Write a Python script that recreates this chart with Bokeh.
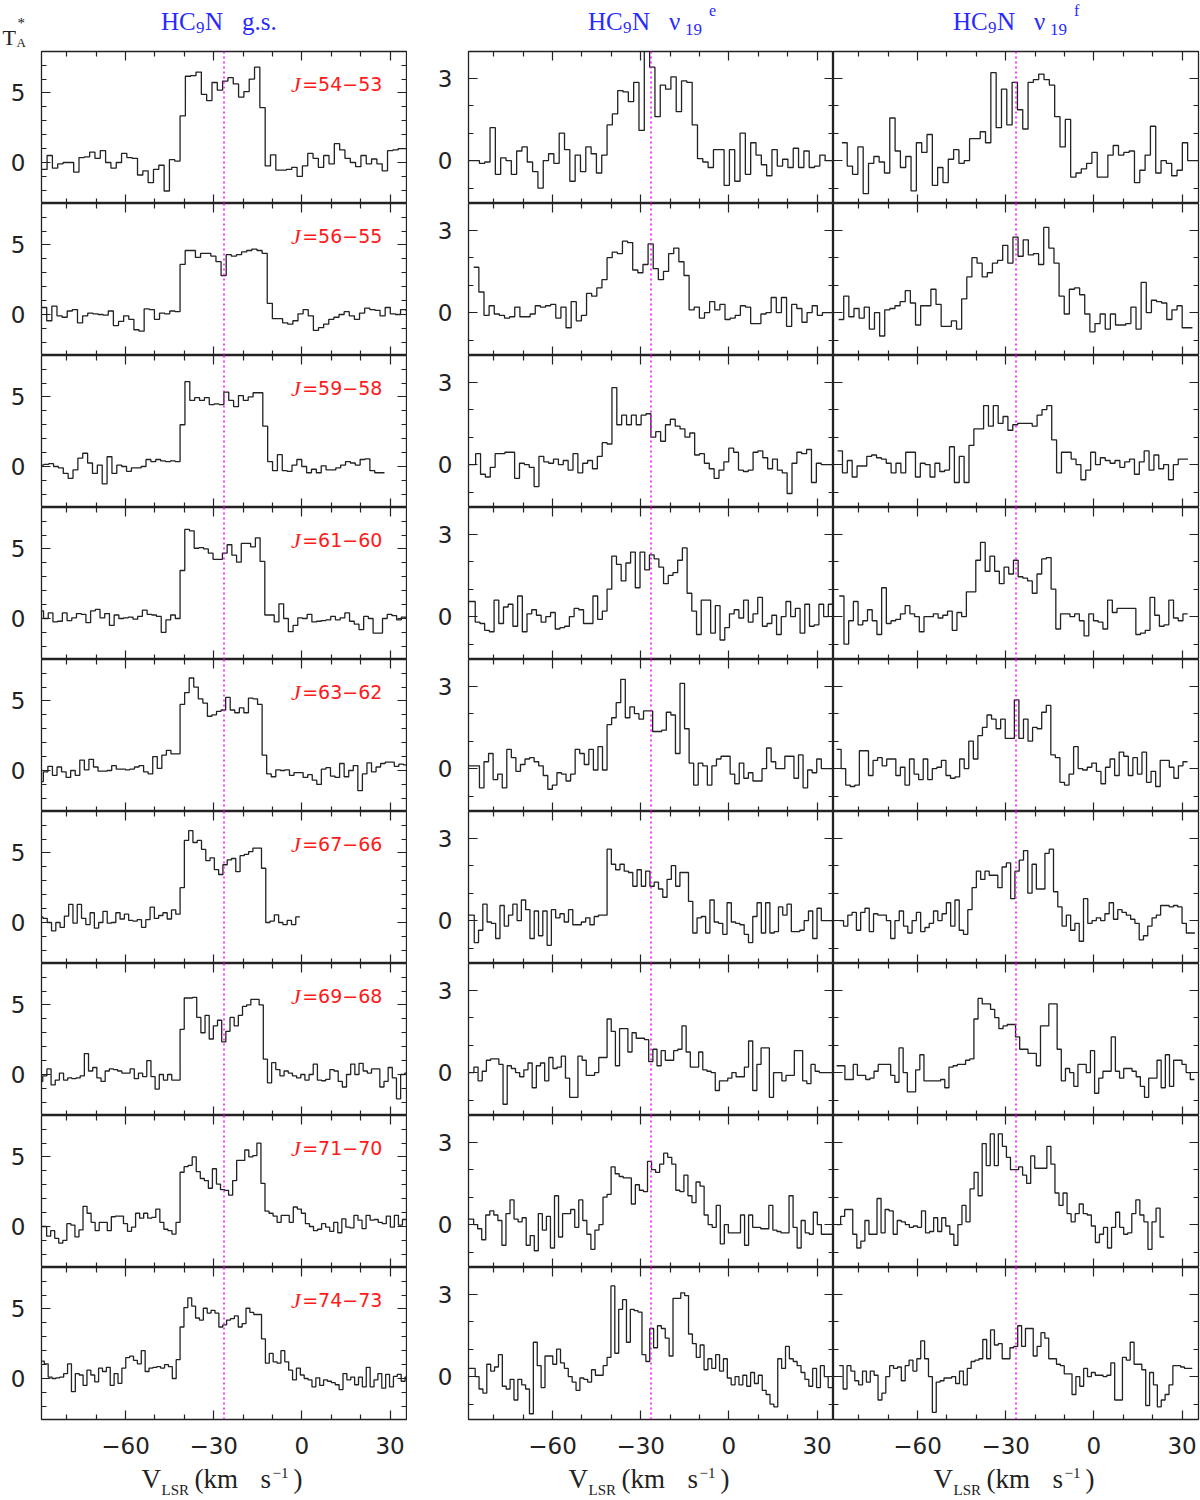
import numpy as np
from bokeh.plotting import figure
from bokeh.models import Range1d, FixedTicker, LinearAxis, Span, Label
from bokeh.layouts import row, column
from bokeh.core.properties import value
from bokeh.embed import file_html
from bokeh.resources import INLINE

# ---------------- data ----------------
J_TEXT = ["54−53", "56−55", "59−58", "61−60", "63−62", "67−66", "69−68", "71−70", "74−73"]
CHAN_DV = [1.81, 1.745, 1.656, 1.602, 1.551, 1.458, 1.416, 1.376, 1.32]   # km/s per channel
V_SYS = -26.5
X_TICKS = [-60, -30, 0, 30]
X_MINOR = [-80, -70, -50, -40, -20, -10, 10, 20]
Y_TICKS_GS = [0, 5]
Y_MINOR_GS = [-2, -1, 1, 2, 3, 4, 6, 7]
Y_TICKS_V = [0, 3]
Y_MINOR_V = [-1, 1, 2]

gs_start = [-88.51, -88.57, -89.47, -89.51, -89.53, -89.56, -89.59, -89.61, -88.97]
e_start = [-88.51, -86.82, -89.47, -89.51, -89.53, -89.56, -89.59, -89.61, -88.97]
f_start = [-85.74, -86.87, -87.21, -86.64, -87.55, -86.64, -87.55, -87.55, -86.64]

gs_j54 = [-0.5,0.5,-0.4,-0.1,0.0,0.0,-0.7,0.35,0.4,0.75,0.3,0.85,0.0,-0.4,0.0,0.65,0.35,0.3,-0.9,-0.6,-1.45,-0.5,-0.2,-2.05,0.2,0.1,
          3.35,6.2,6.25,6.5,4.9,4.45,5.75,5.2,5.85,6.1,5.65,4.7,5.1,6.0,6.85,3.95,
          -0.25,0.55,-0.55,-0.55,-0.5,-0.35,-1.0,-0.25,0.65,0.3,-0.35,0.5,-0.1,1.35,0.9,0.3,0.0,-0.3,0.5,-0.1,0.25,-0.1,-0.6,0.85,0.9,1.0,1.0]
gs_j56 = [0.5,-0.45,0.6,-0.1,-0.2,0.25,0.35,-0.6,-0.1,0.1,0.05,0.0,-0.05,0.25,-0.8,-0.5,-0.1,-0.35,-1.1,-1.2,0.4,0.35,-0.35,0.1,0.05,0.25,0.2,
          3.6,4.6,4.6,4.1,4.4,4.4,4.2,3.8,2.8,4.3,4.2,4.3,4.5,4.6,4.7,4.6,4.4,
          0.8,-0.3,-0.3,-0.6,-0.7,-0.45,0.05,0.35,-0.1,-1.15,-0.95,-0.7,-0.35,-0.2,0.0,0.2,-0.1,-0.35,0.1,0.45,0.35,0.3,-0.1,0.5,0.05,0.0,0.35,0.3]
gs_j59 = [0.1,0.15,0.2,0.0,-0.1,-0.5,-0.85,-0.25,0.6,0.95,0.25,-0.5,0.1,-1.25,0.7,-0.5,0.1,0.0,-0.35,-0.1,-0.1,0.0,0.5,0.35,0.5,0.4,0.35,0.4,0.35,
          3.0,6.1,4.75,4.95,4.75,4.95,4.45,4.5,4.45,5.35,4.75,4.3,5.1,4.75,5.0,5.3,5.3,2.9,
          0.35,-0.3,0.85,-0.3,-0.35,0.1,0.5,0.0,-0.45,-0.2,-0.45,0.05,-0.25,-0.25,-0.1,0.1,0.35,0.25,0.1,0.5,0.55,-0.3,-0.45,-0.45]
gs_j61 = [0.55,0.0,0.4,-0.25,-0.2,0.4,-0.15,0.05,0.35,0.3,-0.3,0.55,0.65,0.05,0.35,-0.5,0.25,0.0,0.05,0.1,-0.05,0.15,0.6,0.3,0.25,0.15,-1.0,-0.1,0.25,0.0,
          3.45,6.4,6.3,5.05,5.1,5.0,4.7,4.25,4.25,4.7,5.3,4.55,4.05,5.4,5.4,5.15,5.8,4.1,
          0.25,0.25,-0.25,1.05,0.0,-0.95,-0.5,0.05,0.0,0.3,-0.25,-0.2,-0.15,-0.1,0.15,-0.1,0.05,0.4,-0.2,-0.4,-0.8,0.15,0.0,-1.05,-1.05,0.0,0.3,0.2,-0.1,0.1,0.0]
gs_j63 = [-0.8,-0.1,0.3,-0.35,0.25,-0.1,-0.5,0.0,-0.35,0.75,0.05,0.8,0.25,-0.05,-0.05,0.0,0.35,0.1,0.1,0.05,0.1,0.25,0.35,-0.1,-0.25,1.0,0.15,1.1,1.45,1.2,1.2,
          4.75,5.6,6.65,6.0,5.15,4.85,3.9,4.0,4.25,4.35,5.25,4.35,4.15,4.5,4.15,5.2,5.15,4.75,1.1,
          -0.25,-0.45,0.05,0.0,0.05,-0.35,-0.15,-0.15,-0.5,-0.3,-0.7,-1.0,0.1,0.2,-0.4,-0.5,0.5,-0.45,0.0,0.35,-1.45,-0.25,0.55,-0.1,0.25,0.5,0.6,0.6,0.3,0.45,0.4]
gs_j67 = [0.4,0.3,0.0,-0.6,0.0,-0.35,0.45,1.3,-0.05,1.3,0.3,-0.15,0.7,-0.4,0.0,0.8,-0.05,0.0,0.7,0.25,0.6,0.15,0.1,0.2,-0.35,0.2,1.1,0.3,0.5,0.7,0.25,0.9,0.6,
          2.5,5.9,6.6,5.75,5.9,5.25,4.45,4.65,3.8,3.45,4.15,4.5,4.6,3.65,4.8,4.9,5.1,5.35,5.35,3.9,
          0.0,0.1,0.55,0.0,-0.15,0.15,-0.15,0.4]
gs_j69 = [-0.5,-0.1,0.4,-0.75,-0.4,0.1,-0.4,-0.25,-0.3,-0.25,-0.1,1.5,0.25,0.5,-0.25,-0.5,0.25,0.4,0.35,0.25,0.1,0.1,0.4,-0.3,0.1,-0.15,1.0,-0.15,-1.05,0.0,-0.4,0.0,-0.4,-0.4,
          3.25,5.5,5.5,5.55,4.1,3.0,4.25,2.55,3.5,3.9,2.35,3.1,4.1,3.5,4.25,4.9,5.0,5.4,5.4,5.0,1.1,
          -0.6,0.85,0.35,-0.1,0.25,0.1,-0.1,-0.25,0.0,-0.4,0.0,0.75,-0.4,-0.45,-0.35,0.35,0.25,-0.5,-0.9,0.0,0.75,0.0,0.8,0.25,0.1,0.4,0.4,-0.9,-0.5,0.5,-0.25,-1.75,0.0,0.1]
gs_j71 = [0.0,0.0,-0.7,-0.3,-0.85,-1.2,-1.0,0.2,0.1,-0.75,-0.25,1.45,0.95,0.3,-0.3,0.3,0.3,-0.3,0.7,0.75,0.75,0.2,-0.35,-0.05,0.95,0.6,0.95,0.6,0.65,1.25,0.3,-0.2,-0.3,-0.55,0.3,
          3.9,4.3,4.4,5.0,3.95,3.45,3.3,2.75,4.15,3.05,2.65,2.6,2.25,3.3,4.75,4.75,5.5,5.0,5.1,6.0,3.1,1.1,
          0.95,0.75,0.3,0.8,0.8,0.3,1.4,1.25,0.95,0.2,0.0,-0.3,-0.2,0.2,-0.05,-0.35,0.3,-0.45,0.55,-0.05,-0.1,0.8,0.45,-0.15,0.8,0.45,0.5,0.3,0.2,0.75,-0.05,0.8,0.1,0.5,0.1]
gs_j74 = [1.25,1.05,0.1,0.0,0.05,0.1,0.35,1.05,-0.95,0.35,0.25,-0.5,0.6,0.25,-0.25,0.75,0.5,0.8,-0.5,0.35,-0.35,0.75,1.5,1.6,1.3,1.05,2.0,0.5,0.75,0.8,0.85,0.75,1.0,0.85,0.0,1.35,
          3.7,5.1,5.8,5.2,4.35,4.2,5.05,4.7,4.9,4.7,3.7,3.85,4.2,4.3,4.5,3.7,3.95,5.05,4.75,4.6,4.6,2.85,
          1.1,1.8,1.2,1.1,2.0,1.2,0.6,-0.1,0.75,0.25,0.0,-0.1,-0.6,0.05,-0.5,-0.1,-0.2,-0.3,-0.45,-0.8,0.35,-0.1,0.1,-0.45,0.1,-0.6,0.8,-0.6,-0.1,0.35,-0.7,0.3,-0.6,0.15,0.3,-0.2,0.1]

e_j54 = [0.0,0.0,-0.1,-0.05,1.2,-0.5,0.1,0.0,-0.5,0.35,0.5,-0.05,-0.4,-1.0,0.0,0.25,-0.1,1.0,0.4,-0.75,0.2,-0.4,0.5,0.25,-0.45,0.2,
         1.3,1.7,2.55,2.5,2.15,2.85,1.1,4.5,3.4,1.6,2.75,2.6,3.05,1.78,2.9,2.85,1.3,0.07,-0.05,-0.25,0.4,
         0.4,-0.9,0.4,-0.75,1.0,-0.5,0.65,0.2,-0.15,-0.55,0.4,-0.2,0.05,-0.25,0.45,-0.25,0.35,-0.25,-0.2,0.2,0.0,0.0]
e_j56 = [1.65,0.75,-0.1,0.25,-0.05,-0.1,-0.2,-0.15,0.2,-0.15,-0.15,-0.05,0.25,0.2,0.25,0.3,-0.2,0.2,-0.55,0.4,-0.3,-0.1,0.7,0.6,0.9,1.2,
         2.0,2.2,2.15,2.6,2.55,1.55,1.45,1.75,2.5,1.6,1.2,1.5,2.15,2.35,1.85,1.35,
         0.1,0.2,-0.2,0.0,0.4,0.1,0.3,-0.25,-0.2,-0.1,0.25,0.2,-0.4,-0.4,-0.05,0.0,0.55,0.0,0.55,-0.5,0.3,0.15,-0.35,0.0,0.25,-0.1,0.0,0.0]
e_j59 = [0.0,0.0,0.4,-0.35,-0.45,-0.1,0.4,0.4,0.45,0.45,-0.5,0.05,0.0,-0.1,-0.8,0.3,0.1,0.05,0.2,0.0,0.15,-0.2,0.4,-0.3,0.05,0.15,-0.15,0.3,0.8,0.75,
         2.8,1.45,1.8,1.45,1.8,1.45,1.8,1.85,1.0,1.2,0.85,1.45,1.65,1.4,1.3,1.0,1.15,
         0.35,0.4,0.05,-0.15,-0.5,-0.2,0.1,0.6,0.45,-0.2,-0.25,-0.2,0.45,0.5,0.25,-0.15,0.2,-0.2,-0.3,-1.05,0.05,0.45,0.4,0.55,-0.65,0.05,0.0,0.0,0.0]
e_j61 = [0.55,0.55,-0.2,-0.25,-0.5,-0.55,0.6,-0.25,0.35,0.45,-0.35,0.75,-0.55,0.1,0.25,0.05,-0.2,0.0,0.15,-0.45,-0.4,-0.35,0.0,0.3,0.25,-0.25,-0.25,0.75,-0.1,0.2,
         1.0,2.2,1.9,1.3,1.95,2.35,1.05,2.35,1.7,2.25,2.1,1.8,1.2,1.5,1.6,2.05,2.5,0.85,
         0.2,-0.65,0.6,0.6,-0.6,0.4,-0.85,-0.4,0.1,0.25,-0.05,0.6,-0.2,0.1,0.7,-0.35,-0.25,0.05,-0.65,0.0,0.55,0.0,0.3,-0.6,0.45,-0.35,-0.3,0.45,0.0,0.45,0.0]
e_j63 = [0.1,0.1,0.1,-0.7,0.25,0.55,-0.4,-0.2,-0.7,0.7,0.4,-0.1,0.15,0.35,0.4,0.25,0.1,-0.25,-0.75,-0.6,-0.15,-0.2,-0.45,-0.2,0.7,0.55,0.15,0.7,-0.05,0.8,-0.05,
         1.6,1.85,2.4,3.25,1.85,2.25,2.0,1.8,2.1,2.1,1.35,1.35,1.4,2.05,1.95,0.55,3.1,1.45,
         0.2,-0.6,0.2,0.1,-0.6,0.1,0.35,0.45,0.45,-0.2,-0.55,0.2,-0.35,-0.15,-0.45,-0.45,0.0,0.75,0.25,0.0,0.0,0.45,0.45,-0.35,0.5,-0.7,-0.05,-0.15,0.35,0.0,0.0,0.0]
e_j67 = [0.2,0.2,-0.8,-0.35,0.6,-0.05,-0.1,-0.65,0.55,-0.2,0.2,0.6,0.0,0.75,0.4,-0.65,0.35,-0.55,0.35,-0.9,0.4,0.1,0.25,-0.05,0.4,-0.15,-0.15,-0.05,0.1,-0.15,0.15,0.2,0.2,
         2.6,2.05,1.85,2.05,1.8,1.75,1.25,1.85,1.25,1.8,1.25,1.4,1.15,0.85,1.5,2.0,1.25,1.75,1.75,0.7,
         -0.45,0.1,0.15,-0.45,0.75,-0.05,-0.1,-0.5,0.65,-0.05,-0.1,-0.15,-0.5,-0.8,0.15,0.65,-0.45,0.65,-0.45,-0.4,0.5,0.2,0.6,-0.4,-0.4,-0.35,0.0,0.35,-0.65,0.45,0.0,0.0,0.0,0.0]
e_j69 = [0.0,0.0,0.2,-0.3,0.05,0.45,0.5,0.5,0.3,-1.15,0.25,0.15,0.0,-0.15,0.1,0.35,-0.55,0.25,0.35,-0.3,0.55,0.15,0.2,0.6,-0.2,-0.9,-0.9,0.6,0.45,-0.1,-0.1,0.0,0.55,0.55,
         1.95,1.5,0.25,1.6,1.6,0.75,1.45,1.25,1.25,1.2,0.4,0.85,0.25,0.8,0.45,0.45,0.8,0.85,1.7,0.75,0.2,0.2,0.75,
         0.1,0.05,0.0,-0.65,-0.3,-0.3,-0.2,0.0,-0.15,-0.15,0.2,1.15,-0.65,0.3,0.9,0.9,-0.9,0.0,0.0,-0.3,-0.1,-0.1,0.8,0.8,-0.3,-0.4,0.3,0.05,0.0,0.0,0.0,0.0]
e_j71 = [0.2,0.2,0.0,-0.15,-0.55,0.35,0.5,0.35,0.15,-0.75,0.4,0.9,0.2,0.1,0.25,-0.75,-0.4,-0.95,0.4,-0.2,0.3,-0.85,1.05,-0.45,0.4,0.4,0.55,-0.1,0.9,0.15,-0.35,-0.9,-0.2,0.0,1.0,1.1,
         2.1,1.85,1.75,1.7,1.7,0.75,1.45,1.25,1.2,2.3,2.0,1.9,2.2,2.6,2.45,2.2,1.25,1.2,1.8,1.05,0.8,1.55,1.4,0.35,
         0.0,-0.1,0.7,-0.7,0.0,-0.3,-0.3,-0.3,0.35,-0.75,0.35,-0.1,-0.1,-0.15,-0.15,0.7,-0.2,-0.25,-0.3,-0.3,1.05,-0.1,-0.85,0.15,-0.3,-0.35,0.45,0.0,-0.35,-0.35,-0.35]
e_j74 = [0.3,0.3,0.0,-0.45,-0.6,0.45,0.2,0.35,0.8,-0.35,-0.45,-0.1,-0.85,-0.1,-0.3,-0.45,-1.35,1.25,0.4,-0.4,0.75,0.75,0.45,1.0,0.5,0.3,0.0,-0.2,-0.5,-0.05,-0.1,-0.2,0.25,0.05,0.05,0.4,0.7,
         3.3,0.85,2.45,2.8,1.25,2.45,2.4,2.35,0.8,0.55,1.75,1.05,1.85,1.75,1.4,0.75,2.85,2.85,3.05,2.95,1.55,1.2,0.7,1.15,
         0.25,0.65,0.3,0.8,0.2,0.65,-0.05,-0.3,0.0,-0.3,0.05,-0.35,0.15,-0.25,0.05,-0.5,-0.65,-1.0,-1.1,0.65,0.3,1.1,0.65,0.55,0.4,0.15,-0.1,-0.35,0.3,-0.4,0.4,0.0,-0.4,-0.4]

f_j54 = [0.65,-0.2,-0.5,0.5,-1.2,-0.1,0.15,-0.05,-0.45,1.55,0.35,-0.25,0.15,-1.1,0.65,0.3,0.95,-0.9,-0.25,-0.8,0.05,0.4,-0.1,0.0,0.8,0.8,1.05,0.65,
         3.2,1.2,2.6,1.3,2.85,1.85,1.15,2.85,2.95,3.15,2.95,2.75,1.6,0.5,1.5,
         -0.6,-0.45,-0.3,-0.1,0.3,-0.6,-0.6,0.2,0.55,0.2,0.3,0.35,-0.8,-0.35,0.2,1.25,-0.45,0.0,-0.1,-0.55,-0.35,0.65,0.0,0.0]
f_j56 = [-0.25,0.6,-0.15,0.15,-0.2,0.2,-0.6,0.0,-0.85,0.1,0.15,0.25,0.4,0.8,0.35,-0.45,0.25,0.25,0.85,0.3,-0.5,-0.5,-0.3,-0.6,0.5,
         1.3,2.0,1.8,1.3,1.45,1.8,1.9,2.45,1.8,2.75,2.05,2.65,2.1,2.15,1.75,3.1,2.35,1.8,0.6,
         -0.05,0.85,0.9,0.65,-0.05,-0.7,-0.4,-0.05,-0.6,-0.05,-0.45,-0.45,-0.4,0.2,-0.6,1.1,0.0,0.45,0.4,0.35,-0.25,0.1,0.25,-0.55,-0.55]
f_j59 = [0.5,-0.3,0.15,-0.45,-0.05,-0.05,0.3,0.35,0.25,0.2,0.05,-0.3,0.05,-0.3,0.45,0.45,-0.45,0.05,0.0,-0.45,0.05,-0.25,-0.2,0.65,-0.65,0.3,-0.65,0.7,
         1.3,1.3,2.15,1.4,2.15,1.5,1.75,1.25,1.45,1.5,1.5,1.5,1.4,1.8,2.0,2.15,0.9,
         -0.3,0.45,0.45,0.2,0.0,-0.55,-0.2,0.45,0.0,0.25,0.15,0.05,0.15,-0.1,0.1,0.2,-0.35,0.1,0.5,-0.2,0.35,-0.15,0.0,-0.55,0.0,0.2,0.2]
f_j61 = [0.75,-1.0,-0.15,0.55,-0.3,-0.15,0.25,-0.15,-0.65,1.05,-0.25,-0.15,-0.1,0.1,0.4,0.1,0.0,-0.55,0.0,0.0,0.1,-0.05,0.05,0.2,-0.5,0.15,0.0,0.9,0.9,
         2.05,2.7,1.65,2.2,1.65,1.2,1.8,1.55,2.05,1.45,1.4,1.3,0.85,1.55,2.1,2.15,1.0,
         -0.45,0.1,0.1,0.0,0.1,-0.15,-0.7,0.1,-0.15,-0.2,-0.45,0.6,0.15,0.3,0.3,0.3,0.3,-0.65,-0.6,-0.5,0.7,0.05,-0.35,-0.3,0.6,-0.05,-0.15,0.1]
f_j63 = [0.7,0.0,-0.6,-0.65,-0.6,0.65,0.65,-0.25,0.3,0.4,0.1,0.35,0.35,-0.25,0.05,-0.6,0.35,-0.2,-0.4,0.35,-0.4,0.0,0.05,0.3,-0.25,-0.35,-0.3,0.35,0.0,1.0,0.35,
         1.2,1.5,1.95,1.8,1.45,1.8,1.1,1.1,2.5,1.1,1.8,1.0,1.5,1.45,2.05,2.3,0.5,0.4,
         -0.5,-0.6,-0.2,0.8,0.0,-0.05,0.05,0.2,-0.1,-0.55,0.05,0.35,-0.25,0.6,0.45,-0.25,0.4,-0.2,0.6,-0.5,-0.1,-0.65,0.3,0.3,0.05,-0.35,0.1,0.25]
f_j67 = [0.0,-0.2,0.2,0.3,-0.35,0.3,0.45,-0.4,0.25,0.2,0.2,0.0,-0.65,0.0,0.35,-0.2,-0.45,0.0,0.3,-0.4,-0.25,-0.1,0.35,0.0,0.25,0.65,-0.2,0.75,-0.35,-0.5,0.4,
         1.2,1.8,1.5,1.8,1.65,1.65,1.2,1.95,2.1,0.8,1.8,2.2,2.55,1.0,2.05,1.15,1.15,2.45,2.6,1.05,0.5,
         -0.2,0.2,-0.35,-0.1,-0.75,0.8,-0.1,0.0,0.1,0.0,0.25,0.65,0.05,0.4,0.3,0.2,0.05,-0.1,-0.7,-0.55,-0.2,0.1,0.2,0.55,0.55,0.5,0.55,0.5,-0.1,-0.45,-0.45]
f_j69 = [0.25,0.25,-0.25,-0.25,0.3,-0.1,-0.1,-0.25,-0.2,0.05,0.3,0.3,0.3,-0.1,-0.35,0.9,0.0,-0.7,-0.7,0.1,0.65,-0.3,-0.3,-0.3,-0.3,-0.25,-0.55,0.2,0.25,0.3,0.3,0.45,0.5,
         1.95,2.7,2.5,2.5,2.3,2.0,1.6,1.7,1.75,1.75,1.3,0.85,0.85,0.7,0.7,0.25,1.7,1.7,2.5,2.5,0.85,
         -0.3,0.15,0.0,-0.5,0.3,0.3,0.0,0.8,-0.75,-0.2,0.05,0.05,1.3,0.05,-0.2,0.15,0.15,0.05,-0.15,-0.5,-0.9,-0.2,-0.2,0.45,-0.55,0.65,-0.5,0.45,0.45,0.3,0.0,-0.25]
f_j71 = [0.0,0.3,0.55,0.55,-0.35,-0.85,-0.6,0.15,-0.35,-0.35,0.95,-0.3,0.55,0.5,-0.35,0.15,0.1,0.0,-0.1,-0.05,-0.1,0.5,-0.3,-0.25,0.25,-0.25,0.25,-0.05,-0.35,-0.75,0.0,0.7,0.1,
         1.3,1.9,1.05,2.95,2.15,3.3,2.15,3.3,2.85,2.45,2.0,2.0,2.1,1.8,1.5,2.5,2.05,2.05,2.05,2.85,2.2,1.15,0.7,1.15,
         0.4,0.1,0.4,0.75,0.4,0.35,-0.05,-0.65,-0.35,-0.1,-0.85,-0.1,0.45,-0.1,-0.35,-0.3,0.4,0.9,0.35,0.1,-0.9,0.1,0.6,-0.45]
f_j74 = [0.4,-0.45,0.4,0.2,-0.15,-0.3,0.2,-0.2,0.2,0.05,-0.85,-0.6,0.0,0.4,0.3,0.35,-0.15,0.4,0.6,0.2,0.65,1.3,0.65,0.0,-1.3,-0.2,-0.15,-0.05,-0.05,0.0,-0.25,0.2,-0.3,0.3,0.55,0.6,0.65,
         1.35,0.65,1.7,1.15,1.2,0.65,0.65,1.05,1.1,1.85,1.1,1.75,1.75,0.75,1.1,1.6,1.4,0.65,0.65,0.45,0.4,0.1,0.1,
         -0.65,0.0,-0.35,0.3,0.0,0.15,0.05,0.05,0.0,0.05,0.5,-0.85,-0.85,0.7,0.6,1.25,0.45,0.45,0.25,-1.05,0.15,-0.3,-1.1,-0.85,-0.65,-0.3,0.4,0.4,0.35,0.3,0.3]

GS = [gs_j54, gs_j56, gs_j59, gs_j61, gs_j63, gs_j67, gs_j69, gs_j71, gs_j74]
NU_E = [e_j54, e_j56, e_j59, e_j61, e_j63, e_j67, e_j69, e_j71, e_j74]
NU_F = [f_j54, f_j56, f_j59, f_j61, f_j63, f_j67, f_j69, f_j71, f_j74]
SPECTRA = [GS, NU_E, NU_F]
STARTS = [gs_start, e_start, f_start]

# ---------------- style / layout ----------------
INK = "#222222"
BLUE = "#2a2aff"
RED = "#ff1a1a"
SERIF = "Liberation Serif"
SANS = "DejaVu Sans"
XR = (-88.6, 35.6)
YR = [(-2.95, 7.98), (-1.56, 3.97), (-1.56, 3.97)]
FW, FH = 365, 152
BORDER_L = [41, 61, 0]
BORDER_R = [1, 0, 2]
FRAME_LEFT = [41, 468, 833]     # page x of each column's frame
PAGE_W = 1200
HEAD_H = 50
BOT_B = 44
FOOT_H = 36
MID = {SERIF: 0.3375, SANS: 0.346}   # (ascent - descent) / 2, in em


def make_axis(ticks, minor, labeled, overrides=None, standoff=16):
    ax = LinearAxis(ticker=FixedTicker(ticks=ticks, minor_ticks=minor))
    ax.axis_line_color = None
    ax.major_tick_in = 9
    ax.major_tick_out = 0
    ax.minor_tick_in = 5
    ax.minor_tick_out = 0
    ax.major_tick_line_color = INK
    ax.minor_tick_line_color = INK
    ax.major_tick_line_width = 1.2
    ax.minor_tick_line_width = 1.2
    if labeled:
        ax.major_label_text_font = SANS
        ax.major_label_text_font_size = "23px"
        ax.major_label_text_color = INK
        ax.major_label_standoff = standoff
        if overrides:
            ax.major_label_overrides = overrides
    else:
        ax.major_label_text_font_size = "0px"
        ax.major_label_standoff = 0
        ax.major_label_text_color = None
    return ax


def make_panel(col, r):
    yr = YR[col]
    p = figure(frame_width=FW, frame_height=FH,
               x_range=Range1d(*XR), y_range=Range1d(*yr),
               output_backend="svg", toolbar_location=None,
               x_axis_location=None, y_axis_location=None,
               min_border_left=BORDER_L[col], min_border_right=BORDER_R[col],
               min_border_top=1 if r == 0 else 0,
               min_border_bottom=BOT_B if r == 8 else 0)
    p.outline_line_color = INK
    p.outline_line_width = 1.3
    p.xgrid.visible = False
    p.ygrid.visible = False
    p.background_fill_color = "white"
    p.border_fill_color = "white"

    yt, ym = (Y_TICKS_GS, Y_MINOR_GS) if col == 0 else (Y_TICKS_V, Y_MINOR_V)
    xover = {t: (("−%d" % -t) if t < 0 else str(t)) for t in X_TICKS}
    p.add_layout(make_axis(X_TICKS, X_MINOR, r == 8, xover, standoff=17), "below")
    p.add_layout(make_axis(X_TICKS, X_MINOR, False), "above")
    p.add_layout(make_axis(yt, ym, col in (0, 1)), "left")
    p.add_layout(make_axis(yt, ym, False), "right")

    p.add_layout(Span(location=V_SYS, dimension="height", line_color="#ff00ff",
                      line_dash="2 3", line_width=1.5))

    vals = SPECTRA[col][r]
    dv = CHAN_DV[r]
    edges = STARTS[col][r] + dv * np.arange(len(vals) + 1)
    yy = list(vals) + [vals[-1]]
    p.step(x=edges, y=yy, mode="after", line_color=INK, line_width=1.3)

    if col == 0:
        p.add_layout(Label(x=-0.4, y=5.62, text="J", text_font=SERIF, text_font_style="italic",
                           text_font_size="22px", text_color=RED, text_align="right",
                           text_baseline="middle"))
        p.add_layout(Label(x=0.1, y=5.62, text="=" + J_TEXT[r], text_font=SANS,
                           text_font_size="19px", text_color=RED, text_align="left",
                           text_baseline="middle"))
    return p


def make_strip(height):
    s = figure(width=PAGE_W, height=height, x_range=Range1d(0, PAGE_W), y_range=Range1d(height, 0),
               output_backend="svg", toolbar_location=None,
               x_axis_location=None, y_axis_location=None,
               min_border=0, min_border_left=0, min_border_right=0,
               min_border_top=0, min_border_bottom=0)
    s.outline_line_color = None
    s.background_fill_color = "white"
    s.border_fill_color = "white"
    try:
        s.xgrid.visible = False
        s.ygrid.visible = False
    except Exception:
        pass
    return s


def put(s, x, baseline, text, size, color, font=SERIF, style="normal"):
    # place text so that its alphabetic baseline sits at `baseline` (strip pixels)
    centre = baseline - MID[font] * size
    s.text(x=[x], y=[centre], text=[text], text_font=value(font), text_font_style=style,
           text_font_size=value("%dpx" % size), text_color=color, text_align="left",
           text_baseline="middle")


# header: column titles and the T_A^* axis label
head = make_strip(HEAD_H)
for c in range(3):
    S = FRAME_LEFT[c] + 119.5
    put(head, S, 29, "HC", 25, BLUE)
    put(head, S + 35, 33, "9", 17, BLUE)
    put(head, S + 44, 29, "N", 25, BLUE)
    if c == 0:
        put(head, S + 81, 29, "g.s.", 25, BLUE)
    else:
        put(head, S + 81, 29, "ν", 25, BLUE)
        put(head, S + 97, 35, "19", 17, BLUE)
        put(head, S + 121, 15, "e" if c == 1 else "f", 16, BLUE)
put(head, 2, 44, "T", 22, INK)
put(head, 16, 46, "A", 13, INK)
put(head, 17, 28, "*", 15, INK)

# footer: x-axis titles
foot = make_strip(FOOT_H)
for c in range(3):
    L = FRAME_LEFT[c]
    put(foot, L + 100, 25, "V", 27, INK)
    put(foot, L + 120, 32, "LSR", 15, INK)
    put(foot, L + 153, 25, "(km", 27, INK)
    put(foot, L + 219, 25, "s", 27, INK)
    put(foot, L + 231, 15, "−1", 15, INK)
    put(foot, L + 252, 25, ")", 27, INK)

rows = [head]
for r in range(9):
    rows.append(row(*[make_panel(c, r) for c in range(3)]))
rows.append(foot)
layout = column(*rows)

open("out.html", "w").write(file_html(layout, INLINE))
